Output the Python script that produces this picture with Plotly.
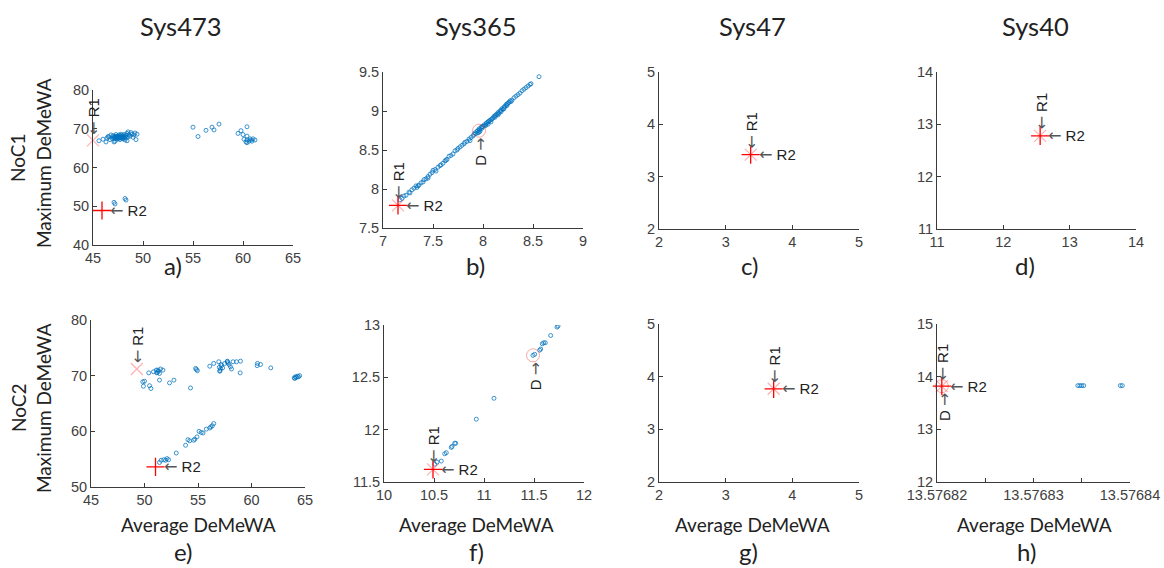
import plotly.graph_objects as go

W, H = 1164, 568

# ---------------- data ----------------
col_titles = ["Sys473", "Sys365", "Sys47", "Sys40"]
row_titles = ["NoC1", "NoC2"]
panel_labels = ["a)", "b)", "c)", "d)", "e)", "f)", "g)", "h)"]
x_label = "Average DeMeWA"
y_label = "Maximum DeMeWA"

# panel a (Sys473, NoC1)
a_x = [45.6, 46.0, 46.3, 46.4, 46.6, 46.7, 46.8, 46.9, 47.0, 47.0, 47.1, 47.2, 47.2, 47.3, 47.3,
       47.4, 47.4, 47.5, 47.5, 47.6, 47.6, 47.7, 47.7, 47.8, 47.8, 47.9, 47.9, 48.0, 48.0, 48.1,
       48.1, 48.2, 48.2, 48.3, 48.3, 48.4, 48.5, 48.5, 48.6, 48.7, 48.8, 48.9, 49.0, 49.1, 49.2,
       49.3, 49.4, 48.4, 47.1, 46.5, 47.55, 47.65, 47.45, 47.85, 47.35, 47.95, 47.75, 47.25, 48.05, 47.15,
       55.0, 55.5, 56.3, 56.9, 57.1, 57.6, 59.5, 59.8, 60.0, 60.4, 60.4, 60.1, 60.3, 60.6, 60.8,
       61.0, 61.2, 60.4, 60.7, 60.9, 60.4,
       47.1, 47.2, 48.2, 48.3]
a_y = [66.9, 67.3, 66.6, 67.6, 67.9, 67.2, 68.4, 67.5, 67.9, 68.2, 67.4, 66.8, 67.7, 68.0, 68.5,
       67.3, 67.8, 68.1, 67.5, 67.9, 68.4, 67.2, 67.7, 68.0, 68.6, 67.5, 67.9, 68.2, 67.4, 67.8,
       68.5, 67.1, 68.0, 67.6, 68.3, 68.8, 69.2, 67.9, 68.5, 68.1, 69.0, 68.6, 67.8, 68.4, 68.9,
       67.2, 68.6, 66.9, 66.6, 68.0, 67.65, 67.55, 67.95, 67.85, 67.55, 68.15, 68.25, 68.1, 67.65, 67.85,
       70.4, 68.0, 69.6, 70.4, 69.7, 71.2, 68.8, 69.5, 68.5, 68.1, 70.5, 67.3, 66.6, 66.8, 67.1,
       67.4, 67.1, 67.1, 67.4, 66.8, 66.4,
       51.0, 50.6, 52.0, 51.6]

# panel b (Sys365, NoC1)
b_x = [7.17, 7.19, 7.21, 7.23, 7.26, 7.27, 7.29, 7.31, 7.33, 7.34, 7.36, 7.38, 7.40, 7.41, 7.43,
       7.45, 7.47, 7.49, 7.50, 7.52, 7.53, 7.55, 7.57, 7.60, 7.62, 7.64, 7.66, 7.68, 7.70, 7.72,
       7.75, 7.77, 7.79, 7.81, 7.82, 7.84, 7.86, 7.87, 7.88, 7.90, 7.91, 7.92, 7.93, 7.94, 7.95,
       7.96, 7.96, 7.97, 7.98, 7.99, 8.00, 8.01, 8.02, 8.03, 8.04, 8.05, 8.06, 8.07, 8.08, 8.09,
       8.10, 8.11, 8.12, 8.13, 8.14, 8.15, 8.16, 8.17, 8.18, 8.19, 8.20, 8.21, 8.22, 8.23, 8.24,
       8.25, 8.26, 8.27, 8.29, 8.31, 8.33, 8.35, 8.37, 8.39, 8.41, 8.43, 8.45, 8.47, 8.48, 8.56,
       7.95, 7.97, 8.05, 8.08, 8.12, 8.15, 8.18, 8.21, 8.24, 8.28, 8.03, 7.99, 7.63, 7.45, 7.35,
       7.58, 7.74]
b_y = [7.86, 7.88, 7.91, 7.92, 7.96, 7.95, 7.99, 8.01, 8.04, 8.02, 8.05, 8.08, 8.09, 8.12, 8.13,
       8.16, 8.19, 8.21, 8.24, 8.25, 8.23, 8.28, 8.30, 8.33, 8.36, 8.38, 8.42, 8.43, 8.45, 8.49,
       8.52, 8.54, 8.56, 8.58, 8.60, 8.61, 8.64, 8.62, 8.66, 8.68, 8.70, 8.72, 8.71, 8.74, 8.75,
       8.73, 8.77, 8.76, 8.79, 8.78, 8.80, 8.82, 8.81, 8.84, 8.85, 8.83, 8.87, 8.88, 8.86, 8.90,
       8.91, 8.93, 8.92, 8.95, 8.96, 8.98, 8.97, 9.00, 9.01, 9.03, 9.02, 9.05, 9.06, 9.08, 9.07,
       9.10, 9.11, 9.13, 9.14, 9.17, 9.19, 9.21, 9.23, 9.26, 9.28, 9.30, 9.32, 9.34, 9.35, 9.44,
       8.72, 8.74, 8.86, 8.89, 8.94, 8.95, 8.99, 9.03, 9.09, 9.12, 8.82, 8.80, 8.37, 8.14, 8.04,
       8.31, 8.50]

# panel e (Sys473, NoC2)
e_x = [49.84, 49.9, 50.0, 50.4, 50.47, 50.6, 50.84, 51.1, 51.2, 51.3, 51.4, 51.15, 51.25, 51.5, 51.72,
       51.4, 52.34, 52.75, 54.3, 54.78, 54.94, 54.85, 56.1, 56.47, 56.94, 57.0, 57.1, 57.2, 57.3, 57.05,
       57.15, 57.03, 57.5, 57.72, 57.8, 57.9, 57.75, 58.03, 58.13, 58.28, 58.6, 58.97, 58.94, 60.53, 60.56,
       60.84, 61.8, 64.0, 64.1, 64.2, 64.3, 64.4, 64.5, 64.05,
       51.4, 51.56, 51.8, 52.1, 51.97, 52.25, 52.97, 53.84, 54.06, 54.22, 54.6, 54.7, 54.9, 55.1, 55.3,
       55.47, 55.78, 56.1, 56.2, 56.34, 56.47]
e_y = [68.9, 68.1, 69.0, 70.5, 68.2, 67.7, 70.7, 71.0, 70.6, 70.8, 70.4, 70.5, 71.0, 71.2, 71.0,
       69.2, 68.7, 69.2, 67.8, 71.3, 70.9, 71.1, 71.7, 72.2, 72.5, 71.5, 71.2, 71.8, 71.4, 70.9,
       72.0, 70.8, 72.2, 72.5, 72.3, 72.0, 72.6, 71.6, 71.2, 72.5, 72.5, 72.6, 70.5, 71.8, 72.2,
       72.0, 71.4, 69.6, 69.8, 69.7, 69.9, 69.8, 70.0, 69.5,
       54.4, 54.8, 54.9, 55.1, 54.8, 54.9, 56.1, 57.5, 58.5, 58.3, 58.4, 58.6, 59.0, 60.0, 59.8,
       59.7, 60.4, 60.6, 60.8, 61.0, 61.4]

# panel f (Sys365, NoC2)
f_x = [10.507, 10.53, 10.573, 10.607, 10.623, 10.673, 10.68, 10.707, 10.717, 10.923, 11.1,
       11.49, 11.507, 11.557, 11.567, 11.583, 11.597, 11.613, 11.667, 11.74, 11.73]
f_y = [11.67, 11.69, 11.70, 11.77, 11.78, 11.83, 11.84, 11.87, 11.87, 12.10, 12.30,
       12.71, 12.72, 12.76, 12.77, 12.82, 12.83, 12.83, 12.90, 12.99, 12.98]

# panel h (Sys40, NoC2)
h_x = [13.5768346, 13.5768348, 13.5768350, 13.5768352, 13.5768390, 13.5768392]
h_y = [13.83, 13.83, 13.83, 13.83, 13.83, 13.83]

# highlighted solutions: R1, R2, D per panel
r1_pts = [(45.0, 67.0), (7.15, 7.79), (3.375, 3.42), (12.555, 12.78),
          (49.28, 71.2), (10.49, 11.62), (3.72, 3.77), (13.5768205, 13.82)]
r2_pts = [(45.9, 48.9), (7.15, 7.79), (3.375, 3.42), (12.555, 12.78),
          (51.03, 53.6), (10.49, 11.62), (3.72, 3.77), (13.5768205, 13.82)]
d_pts = [None, (7.96, 8.747), None, None, None, (11.49, 12.71), None, (13.5768205, 13.82)]

# axis ranges and ticks
x_ranges = [[45, 65], [7, 9], [2, 5], [11, 14], [45, 65], [10, 12], [2, 5], [13.57682, 13.57684]]
y_ranges = [[40, 80], [7.5, 9.5], [2, 5], [11, 14], [50, 80], [11.5, 13], [2, 5], [12, 15]]
x_tickvals = [[45, 50, 55, 60, 65], [7, 7.5, 8, 8.5, 9], [2, 3, 4, 5], [11, 12, 13, 14],
              [45, 50, 55, 60, 65], [10, 10.5, 11, 11.5, 12], [2, 3, 4, 5],
              [13.57682, 13.576825, 13.57683, 13.576835, 13.57684]]
x_ticktext = [["45", "50", "55", "60", "65"], ["7", "7.5", "8", "8.5", "9"], ["2", "3", "4", "5"],
              ["11", "12", "13", "14"], ["45", "50", "55", "60", "65"],
              ["10", "10.5", "11", "11.5", "12"], ["2", "3", "4", "5"],
              ["13.57682", "", "13.57683", "", "13.57684"]]
y_tickvals = [[40, 50, 60, 70, 80], [7.5, 8, 8.5, 9, 9.5], [2, 3, 4, 5], [11, 12, 13, 14],
              [50, 60, 70, 80], [11.5, 12, 12.5, 13], [2, 3, 4, 5], [12, 13, 14, 15]]
y_ticktext = [["40", "50", "60", "70", "80"], ["7.5", "8", "8.5", "9", "9.5"], ["2", "3", "4", "5"],
              ["11", "12", "13", "14"], ["50", "60", "70", "80"], ["11.5", "12", "12.5", "13"],
              ["2", "3", "4", "5"], ["12", "13", "14", "15"]]

blue_x = [a_x, b_x, [], [], e_x, f_x, [], h_x]
blue_y = [a_y, b_y, [], [], e_y, f_y, [], h_y]

# ---------------- layout (pixel boxes: left, right, top, bottom) ----------------
boxes = [(93, 293, 90, 245), (383, 583, 72, 228), (659, 859, 72, 229), (937, 1136, 72, 229),
         (91, 305, 320, 487), (384, 584, 325, 482), (659, 859, 324, 482), (937, 1130, 324, 482)]

TICK_FONT = dict(family="Liberation Sans, Arial, sans-serif", size=14.5, color="#404040")
LABEL_FONT = "Lato, Open Sans, sans-serif"
AXC = "#3a3a3a"
BLUE = "rgba(0,114,189,0.75)"
ARROW_L = "<span style='font-family:DejaVu Sans;color:#555555;font-size:16px'>\u2190</span>"
ARROW_R = "<span style='font-family:DejaVu Sans;color:#555555;font-size:16px'>\u2192</span>"

fig = go.Figure()
annotations = []

for i in range(8):
    n = i + 1
    xa = "x" if n == 1 else f"x{n}"
    ya = "y" if n == 1 else f"y{n}"
    l, r, t, b = boxes[i]
    common = dict(showgrid=False, zeroline=False, showline=True, linecolor=AXC, linewidth=1,
                  ticks="inside", ticklen=4, tickcolor=AXC, tickwidth=1, tickfont=TICK_FONT,
                  mirror=False, fixedrange=True, automargin=False)
    fig.layout[f"xaxis{'' if n == 1 else n}"] = dict(
        domain=[l / W, r / W], anchor=ya, range=x_ranges[i], tickmode="array",
        tickvals=x_tickvals[i], ticktext=x_ticktext[i], **common)
    fig.layout[f"yaxis{'' if n == 1 else n}"] = dict(
        domain=[1 - b / H, 1 - t / H], anchor=xa, range=y_ranges[i], tickmode="array",
        tickvals=y_tickvals[i], ticktext=y_ticktext[i], **common)

    if blue_x[i]:
        fig.add_trace(go.Scatter(x=blue_x[i], y=blue_y[i], mode="markers", xaxis=xa, yaxis=ya,
                                 marker=dict(symbol="circle-open", size=4, color=BLUE,
                                             line=dict(width=1, color=BLUE)),
                                 showlegend=False, hoverinfo="skip"))
    if d_pts[i] is not None:
        fig.add_trace(go.Scatter(x=[d_pts[i][0]], y=[d_pts[i][1]], mode="markers", xaxis=xa, yaxis=ya,
                                 marker=dict(symbol="circle-open", size=13,
                                             color="rgba(240,60,60,0.45)",
                                             line=dict(width=1, color="rgba(240,60,60,0.45)")),
                                 showlegend=False, hoverinfo="skip", cliponaxis=False))
    fig.add_trace(go.Scatter(x=[r1_pts[i][0]], y=[r1_pts[i][1]], mode="markers", xaxis=xa, yaxis=ya,
                             marker=dict(symbol="x-thin", size=12, color="rgba(255,60,60,0.4)",
                                         line=dict(width=1.2, color="rgba(255,60,60,0.4)")),
                             showlegend=False, hoverinfo="skip", cliponaxis=False))
    fig.add_trace(go.Scatter(x=[r2_pts[i][0]], y=[r2_pts[i][1]], mode="markers", xaxis=xa, yaxis=ya,
                             marker=dict(symbol="cross-thin", size=13, color="#ff0000",
                                         line=dict(width=1.3, color="#ff0000")),
                             showlegend=False, hoverinfo="skip", cliponaxis=False))

    ann_font = dict(family="Liberation Sans, Arial, sans-serif", size=15, color="#222222")
    annotations.append(dict(x=r1_pts[i][0], y=r1_pts[i][1], xref=xa, yref=ya, text=ARROW_L + " R1",
                            textangle=-90, showarrow=False, xanchor="center", yanchor="bottom",
                            yshift=4, xshift=1, font=ann_font))
    annotations.append(dict(x=r2_pts[i][0], y=r2_pts[i][1], xref=xa, yref=ya, text=ARROW_L + " R2",
                            showarrow=False, xanchor="left", yanchor="middle",
                            xshift=6, font=ann_font))
    if d_pts[i] is not None:
        annotations.append(dict(x=d_pts[i][0], y=d_pts[i][1], xref=xa, yref=ya, text="D " + ARROW_R,
                                textangle=-90, showarrow=False, xanchor="center", yanchor="top",
                                yshift=-5, xshift=2, font=ann_font))

# column titles
for txt, px in zip(col_titles, [181, 476, 752, 1035]):
    annotations.append(dict(x=px / W, y=1 - 26 / H, xref="paper", yref="paper", text=txt,
                            showarrow=False, xanchor="center", yanchor="middle",
                            font=dict(family=LABEL_FONT, size=25.5, color="#222222")))
# row titles and y labels
for txt, py in zip(row_titles, [158, 408]):
    annotations.append(dict(x=18 / W, y=1 - py / H, xref="paper", yref="paper", text=txt,
                            textangle=-90, showarrow=False, xanchor="center", yanchor="middle",
                            font=dict(family=LABEL_FONT, size=19, color="#222222")))
for py in [163, 408]:
    annotations.append(dict(x=43 / W, y=1 - py / H, xref="paper", yref="paper", text=y_label,
                            textangle=-90, showarrow=False, xanchor="center", yanchor="middle",
                            font=dict(family=LABEL_FONT, size=19, color="#222222")))
# x labels
for px in [198, 476, 752, 1034]:
    annotations.append(dict(x=px / W, y=1 - 524 / H, xref="paper", yref="paper", text=x_label,
                            showarrow=False, xanchor="center", yanchor="middle",
                            font=dict(family=LABEL_FONT, size=19, color="#222222")))
# panel labels
lab_pos = [(173, 265), (475, 265), (749, 265), (1025, 265),
           (183, 551), (476, 551), (748, 551), (1026, 551)]
for txt, (px, py) in zip(panel_labels, lab_pos):
    annotations.append(dict(x=px / W, y=1 - py / H, xref="paper", yref="paper", text=txt,
                            showarrow=False, xanchor="center", yanchor="middle",
                            font=dict(family=LABEL_FONT, size=24, color="#222222")))

fig.update_layout(width=W, height=H, margin=dict(l=0, r=0, t=0, b=0, autoexpand=False),
                  paper_bgcolor="white", plot_bgcolor="white", annotations=annotations,
                  showlegend=False)

fig.write_html("out.html", config={"displayModeBar": False},
               post_script="document.body.style.margin='0';document.body.style.overflow='hidden';")
